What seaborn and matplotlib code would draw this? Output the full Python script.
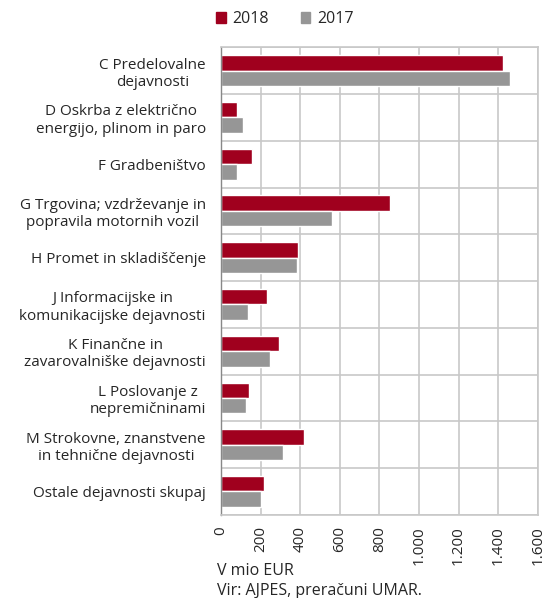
import pandas as pd
import numpy as np
import matplotlib.pyplot as plt
import seaborn as sns
from matplotlib.ticker import FuncFormatter

categories = [
    'C Predelovalne\ndejavnosti',
    'D Oskrba z električno\nenergijo, plinom in paro',
    'F Gradbeništvo',
    'G Trgovina; vzdrževanje in\npopravila motornih vozil',
    'H Promet in skladiščenje',
    'J Informacijske in\nkomunikacijske dejavnosti',
    'K Finančne in\nzavarovalniške dejavnosti',
    'L Poslovanje z\nnepremičninami',
    'M Strokovne, znanstvene\nin tehnične dejavnosti',
    'Ostale dejavnosti skupaj',
]
values_2018 = [1425, 82, 158, 853, 390, 231, 290, 141, 419, 217]
values_2017 = [1459, 113, 82, 559, 385, 138, 247, 125, 315, 202]
years = ['2018', '2017']

df = pd.DataFrame({
    'kategorija': categories * 2,
    'vrednost': values_2018 + values_2017,
    'leto': [years[0]] * len(categories) + [years[1]] * len(categories),
})

sns.set_style('white')
plt.rcParams['font.family'] = ['Open Sans', 'DejaVu Sans']

red = '#A0001E'
grey = '#969696'
fs = 11

fig = plt.figure(figsize=(5.46, 5.98), dpi=100)
ax = fig.add_axes([0.405, 0.139, 0.58, 0.782])

sns.barplot(data=df, y='kategorija', x='vrednost', hue='leto', orient='h',
            palette=[red, grey], width=0.66, ax=ax, legend=False, saturation=1)

ax.set_xlim(0, 1600)
ax.set_ylim(len(categories) - 0.5, -0.5)
ax.set_xticks(np.arange(0, 1601, 200))
ax.xaxis.set_major_formatter(FuncFormatter(lambda v, p: f'{int(v):,}'.replace(',', '.')))
ax.tick_params(axis='x', labelrotation=90, labelsize=fs, length=0, pad=8)
ax.set_yticks(np.arange(len(categories)), labels=categories)
ax.tick_params(axis='y', labelsize=fs, length=0, pad=11)
for lbl in ax.get_yticklabels():
    lbl.set_horizontalalignment('right')
    lbl.set_multialignment('center')

ax.set_xlabel('')
ax.set_ylabel('')
ax.grid(axis='x', color='#c8c8c8', linewidth=1.2)
ax.set_yticks(np.arange(-0.5, len(categories), 1), minor=True)
ax.grid(axis='y', which='minor', color='#c8c8c8', linewidth=1.2)
ax.tick_params(axis='y', which='minor', length=0)
ax.set_axisbelow(True)
for s in ['top', 'right', 'bottom']:
    ax.spines[s].set_color('#c8c8c8')
    ax.spines[s].set_linewidth(1.2)
ax.spines['left'].set_color('#888888')
ax.spines['left'].set_linewidth(1)

handles = [plt.Rectangle((0, 0), 1, 1, color=red), plt.Rectangle((0, 0), 1, 1, color=grey)]
fig.legend(handles, years, loc='center left', bbox_to_anchor=(0.37, 0.968), ncol=2,
           frameon=False, fontsize=11.5, handlelength=0.6, handleheight=0.6,
           handletextpad=0.4, columnspacing=2.0)

fig.text(0.397, 0.045, 'V mio EUR', fontsize=11.5, ha='left', va='center')
fig.text(0.397, 0.011, 'Vir: AJPES, preračuni UMAR.', fontsize=11.5, ha='left', va='center')

fig.savefig('out.png', dpi=100)
